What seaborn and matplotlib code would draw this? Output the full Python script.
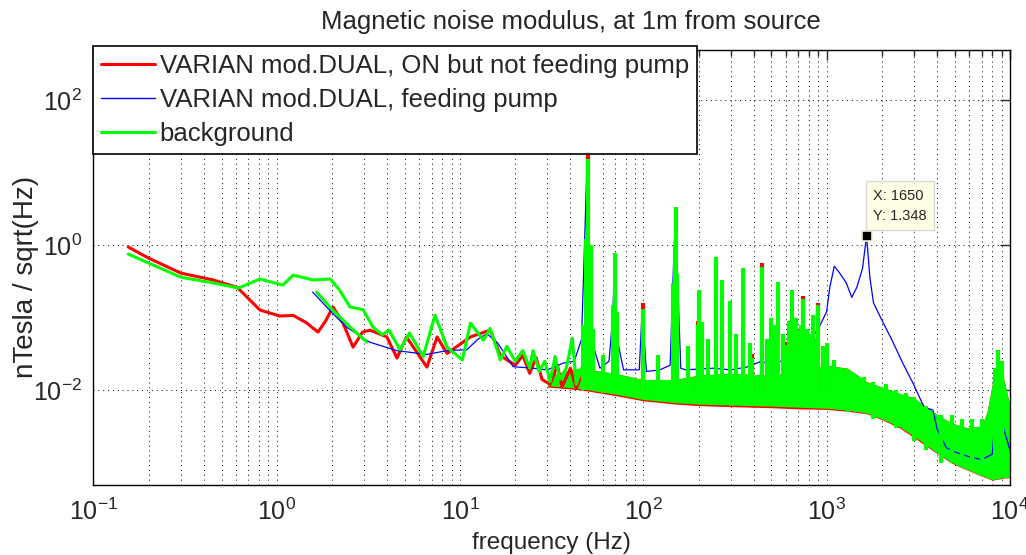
import numpy as np
import pandas as pd
import matplotlib
matplotlib.use("Agg")
import matplotlib.pyplot as plt
import matplotlib.ticker as mticker
import seaborn as sns

# values: frequency in Hz, noise in nTesla/sqrt(Hz)

# red - VARIAN ON but not feeding pump (low frequency part)
red_f = [0.155, 0.2, 0.3, 0.45, 0.61, 0.81, 1.04, 1.23, 1.45, 1.68, 1.85, 2.03,
         2.3, 2.61, 2.94, 3.23, 3.99, 4.53, 5.1, 6.6, 7.5, 8.5, 11.4, 14.6, 16.6, 20,
         22, 24, 26, 28, 31, 34, 36, 40, 43, 46]
red_y = [0.94, 0.66, 0.41, 0.33, 0.26, 0.127, 0.105, 0.107, 0.085, 0.063, 0.09, 0.14,
         0.084, 0.039, 0.063, 0.067, 0.054, 0.0276, 0.054, 0.0207, 0.054, 0.032, 0.054,
         0.067, 0.03, 0.022, 0.03, 0.017, 0.028, 0.014, 0.012, 0.022, 0.011, 0.02, 0.0105, 0.016]

# blue - VARIAN feeding pump
blue_f = [1.57, 2.0, 2.4, 3.2, 4.5, 6.6, 8.5, 10.9, 12.5, 14, 16, 19.5, 25, 30, 36.5, 42,
          46, 48, 49.3, 50.5, 52, 58, 65, 68, 70, 72, 78, 95, 98.6, 101, 104, 123, 140,
          146, 150, 154, 160, 170, 240, 300, 366, 433, 510, 600, 700, 810, 900, 998,
          1040, 1100, 1170, 1280, 1370, 1460, 1570, 1650, 1720, 1800, 2000, 2270, 2600,
          2950, 3400, 3800, 4000, 4500, 5000, 6000, 7000, 8000, 8600, 9200, 10000]
blue_y = [0.225, 0.117, 0.074, 0.046, 0.035, 0.031, 0.035, 0.036, 0.05, 0.06, 0.045, 0.021,
          0.02, 0.019, 0.0235, 0.025, 0.05, 1.5, 14, 2, 0.05, 0.02, 0.025, 0.1, 0.7, 0.05,
          0.019, 0.019, 0.13, 0.05, 0.018, 0.019, 0.022, 0.5, 3.0, 0.3, 0.02, 0.019, 0.02,
          0.019, 0.0207, 0.0245, 0.0235, 0.026, 0.035, 0.049, 0.07, 0.119, 0.26, 0.51, 0.42,
          0.30, 0.19, 0.26, 0.48, 1.348, 0.36, 0.16, 0.092, 0.049, 0.0235, 0.0126, 0.0058,
          0.0053, 0.0029, 0.0016, 0.0014, 0.0012, 0.0011, 0.0013, 0.012, 0.003, 0.0015]

# green - background (two records overlapping at low frequency)
bg_f = [0.155, 0.2, 0.3, 0.45, 0.62, 0.81, 1.08, 1.23, 1.58, 1.96, 2.2, 2.51, 2.96, 3.35,
        3.76, 4.1, 4.7, 5.3, 6.3, 7.3, 8.5, 10.3, 11.4, 13.4, 14.6, 16.6, 18, 20,
        22, 24, 25, 27, 29, 31, 33, 35, 38, 41, 43, 46]
bg_y = [0.75, 0.565, 0.36, 0.3, 0.255, 0.34, 0.28, 0.385, 0.33, 0.34, 0.24, 0.14, 0.128, 0.074,
        0.058, 0.067, 0.036, 0.061, 0.029, 0.108, 0.039, 0.026, 0.084, 0.0486, 0.071, 0.026,
        0.04, 0.025, 0.035, 0.02, 0.035, 0.018, 0.025, 0.013, 0.029, 0.014, 0.02, 0.052,
        0.012, 0.02]
bg2_f = [1.65, 2.0, 2.5, 3.1]
bg2_y = [0.225, 0.13, 0.075, 0.046]

# dense part of the spectra (30 Hz - 10 kHz): lower / upper edge of the filled band
band_f = [30, 45, 70, 100, 150, 200, 300, 500, 700, 1000, 1300, 1660, 2000, 2500,
          3000, 3800, 4800, 5900, 7000, 7500, 8000, 8600, 9200, 10000]
bg_lo = [0.0115, 0.0105, 0.0088, 0.0074, 0.0067, 0.0064, 0.0062, 0.006, 0.0058,
         0.0056, 0.0053, 0.0048, 0.004, 0.0031, 0.0023, 0.00148, 0.001, 0.00079, 0.00066,
         0.00062, 0.00058, 0.0006, 0.00062, 0.00063]
bg_hi = [0.016, 0.02, 0.017, 0.014, 0.014, 0.016, 0.017, 0.016, 0.018, 0.022, 0.02,
         0.013, 0.011, 0.009, 0.0078, 0.005, 0.0035, 0.003, 0.0032, 0.005, 0.012, 0.02, 0.015, 0.006]
red_lo = [0.011, 0.0101, 0.0084, 0.0071, 0.0064, 0.0061, 0.0059, 0.0057, 0.0055,
          0.0054, 0.0051, 0.0047, 0.0039, 0.003, 0.0022, 0.00145, 0.00098, 0.00078, 0.00065,
          0.00061, 0.00057, 0.00059, 0.00061, 0.00062]

# lines sticking out of the band
spike_f = [47, 48.5, 50, 51.5, 53, 60, 68.5, 70, 71.5, 100, 120, 146, 148, 150,
           152, 175, 198, 201, 210, 225, 249, 270, 297, 320, 350, 380, 393, 443, 470, 494,
           520, 540, 580, 600, 620, 650, 680, 700, 720, 745, 780, 820, 845, 870, 900, 950,
           1000, 1100, 1200, 1300, 1450, 1600, 1800, 2100, 2400, 2700, 3000, 3500, 4200,
           4800, 5500, 6200, 7000, 8300, 8600, 9000]
spike_top = [0.08, 1.2, 15.5, 1.0, 0.07, 0.03, 0.15, 0.78, 0.12, 0.13,
             0.03, 0.3, 1.0, 3.4, 0.4, 0.04, 0.08, 0.24, 0.087, 0.05, 0.68, 0.33, 0.17, 0.06,
             0.48, 0.045, 0.028, 0.5, 0.05, 0.1, 0.08, 0.31, 0.06, 0.042, 0.09, 0.24, 0.1,
             0.067, 0.08, 0.18, 0.07, 0.06, 0.11, 0.05, 0.15, 0.04, 0.045, 0.026, 0.02,
             0.018, 0.016, 0.015, 0.013, 0.012, 0.01, 0.009, 0.008, 0.006, 0.0045, 0.0045,
             0.004, 0.004, 0.004, 0.02, 0.036, 0.025]
spike_base = [0.01, 0.01, 0.01, 0.01, 0.01, 0.009, 0.009, 0.009, 0.009, 0.008,
              0.008, 0.007, 0.007, 0.007, 0.007, 0.007, 0.007, 0.007, 0.007, 0.007, 0.007,
              0.007, 0.007, 0.007, 0.007, 0.007, 0.007, 0.007, 0.007, 0.007, 0.007, 0.007,
              0.007, 0.007, 0.007, 0.007, 0.007, 0.007, 0.007, 0.007, 0.007, 0.007, 0.007,
              0.007, 0.007, 0.007, 0.007, 0.006, 0.006, 0.005, 0.005, 0.005, 0.004, 0.004,
              0.003, 0.003, 0.002, 0.0015, 0.001, 0.001, 0.001, 0.001, 0.001, 0.001, 0.001, 0.001]
red_spike_f = [50, 100, 198, 393, 443, 600, 745, 900]
red_spike_top = [17.5, 0.16, 0.09, 0.031, 0.56, 0.046, 0.2, 0.16]

tip_f, tip_y = 1650, 1.348

sns.set_style("white")
plt.rcParams["font.family"] = ["Liberation Sans", "DejaVu Sans"]
plt.rcParams["mathtext.default"] = "regular"

RED, BLUE, GREEN = (1, 0, 0), (0, 0, 1), (0, 1, 0)

fig = plt.figure(figsize=(10.26, 5.55), dpi=100)
ax = fig.add_axes([0.091, 0.1261, 0.8934, 0.7838])
ax.set_xscale("log")
ax.set_yscale("log")

# red
ax.fill_between(band_f, red_lo, bg_hi, color=RED, lw=0)
ax.vlines(red_spike_f, 0.01, red_spike_top, colors=[RED], lw=3)
sns.lineplot(x=red_f, y=red_y, color=RED, lw=2.2, sort=False, estimator=None, ax=ax)

# blue
sns.lineplot(x=blue_f, y=blue_y, color=BLUE, lw=0.9, sort=False, estimator=None, ax=ax)

# green
ax.fill_between(band_f, bg_lo, bg_hi, color=GREEN, lw=0)
ax.vlines(spike_f, spike_base, spike_top, colors=[GREEN], lw=3)
sns.lineplot(x=bg_f, y=bg_y, color=GREEN, lw=2.2, sort=False, estimator=None, ax=ax)
sns.lineplot(x=bg2_f, y=bg2_y, color=GREEN, lw=2.2, sort=False, estimator=None, ax=ax)

# data tip
ax.plot([tip_f], [tip_y], marker="s", ms=7, mfc="k", mec="#f5f0c8", mew=1.2, zorder=5)
ax.annotate(f"X: {tip_f}\nY: {tip_y}", xy=(tip_f, tip_y), xytext=(5, 9),
            textcoords="offset points", fontsize=10.5, ha="left", va="bottom",
            linespacing=1.6, zorder=6,
            bbox=dict(boxstyle="square,pad=0.5", fc="#ffffe6", ec="#d8d8d8", lw=1))

ax.set_xlim(0.1, 1e4)
ax.set_ylim(10 ** -3.31, 10 ** 2.69)

ax.xaxis.set_major_locator(mticker.LogLocator(base=10, numticks=10))
ax.xaxis.set_minor_locator(mticker.LogLocator(base=10, subs=np.arange(2, 10), numticks=20))
ax.xaxis.set_minor_formatter(mticker.NullFormatter())
ax.yaxis.set_major_locator(mticker.FixedLocator([1e-2, 1, 1e2]))
ax.yaxis.set_minor_locator(mticker.NullLocator())

ax.grid(True, which="major", color="k", ls=(0, (1, 4)), lw=0.7)
ax.grid(True, which="minor", axis="x", color="k", ls=(0, (1, 4)), lw=0.7)
ax.tick_params(which="both", direction="in", top=True, right=True, labelsize=18, width=1)
ax.tick_params(which="major", length=7, pad=10)
ax.tick_params(axis="y", which="major", pad=8)
ax.tick_params(which="minor", length=4)
for s in ax.spines.values():
    s.set_linewidth(1)
    s.set_color("k")

ax.set_title("Magnetic noise modulus, at 1m from source", fontsize=18.5, pad=15,
             x=(571 - 93.4) / 916.6)
ax.set_xlabel("frequency (Hz)", fontsize=17.5, labelpad=5)
ax.set_ylabel("nTesla / sqrt(Hz)", fontsize=20)
ax.yaxis.set_label_coords(-0.059, 0.478)

handles = [plt.Line2D([], [], color=RED, lw=2.2),
           plt.Line2D([], [], color=BLUE, lw=1.0),
           plt.Line2D([], [], color=GREEN, lw=2.2)]
labels = ["VARIAN mod.DUAL, ON but not feeding pump",
          "VARIAN mod.DUAL, feeding pump",
          "background"]
leg = fig.legend(handles, labels, loc="upper left", bbox_to_anchor=(93 / 1026, 1 - 46 / 555),
                 fontsize=18.5, frameon=True, fancybox=False, edgecolor="k", framealpha=1,
                 borderaxespad=0, borderpad=0.3, labelspacing=0.4, handlelength=2.1,
                 handletextpad=0.2)
leg.get_frame().set_linewidth(1.2)

fig.savefig("out.png", dpi=100)
